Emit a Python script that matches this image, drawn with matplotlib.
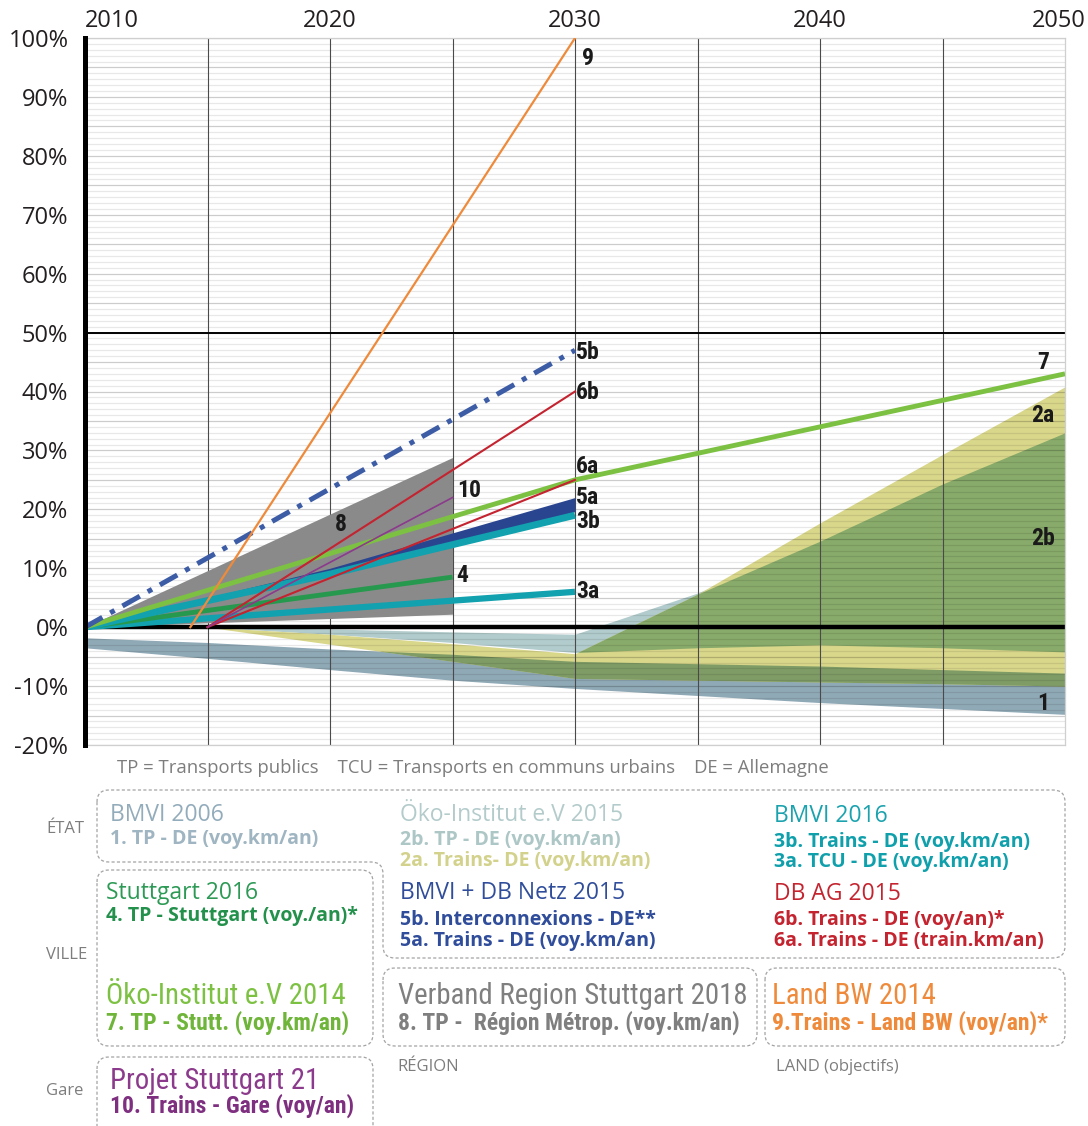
import os
import numpy as np
import matplotlib
matplotlib.use("Agg")
import matplotlib.pyplot as plt
from matplotlib import font_manager as fm
from matplotlib.path import Path
from matplotlib.patches import PathPatch
from matplotlib.transforms import blended_transform_factory, ScaledTranslation

# ---------------------------------------------------------------------------
# Scenario data (% change vs 2010)
# ---------------------------------------------------------------------------
years = [2010, 2015, 2020, 2025, 2030, 2035, 2040, 2045, 2050]
nan = np.nan

# 1. BMVI 2006 - TP DE (band)
s1_hi = [-1.8, -2.6, -3.7, -4.6, -5.8, -6.2, -6.6, -7.2, -7.8]
s1_lo = [-3.5, -5.3, -7.2, -9.0, -10.4, -11.6, -12.8, -13.8, -14.8]
# 2a. Oeko-Institut 2015 - Trains DE (band)
s2a_hi = [nan, 0.0, -1.2, -2.8, -4.5, 5.6, 17.7, 29.3, 40.8]
s2a_lo = [nan, 0.0, -2.9, -5.8, -8.7, -9.0, -9.3, -9.6, -10.0]
# 2b. Oeko-Institut 2015 - TP DE (band)
s2b_hi = [nan, 0.0, -0.3, -0.8, -1.2, 5.8, 14.6, 24.3, 33.0]
s2b_lo = [nan, 0.0, -1.2, -2.6, -4.3, -3.5, -3.0, -3.5, -4.2]

# 3a / 3b. BMVI 2016
s3a_x, s3a_y = [2010, 2030], [0.0, 6.0]
s3b_x, s3b_y = [2010, 2020, 2030], [0.0, 9.0, 19.0]
# 4. Stuttgart 2016
s4_x, s4_y = [2010, 2025], [0.0, 8.5]
# 5a (band) / 5b. BMVI + DB Netz 2015
s5a_x = [2010, 2020, 2030]
s5a_lo = [0.0, 9.2, 19.6]
s5a_hi = [0.0, 10.0, 22.0]
s5b_x, s5b_y = [2010, 2030], [0.0, 47.0]
# 6a / 6b. DB AG 2015
s6a_x, s6a_y = [2015, 2030], [0.0, 25.0]
s6b_x, s6b_y = [2015, 2030], [0.0, 40.0]
# 7. Oeko-Institut 2014 - Stuttgart
s7_x, s7_y = [2010, 2030, 2050], [0.0, 25.0, 43.0]
# 8. Verband Region Stuttgart 2018 (range)
s8_x = [2010, 2025]
s8_lo = [0.0, 2.2]
s8_hi = [0.0, 28.8]
# 9. Land BW 2014
s9_x, s9_y = [2014.3, 2030], [0.0, 100.0]
# 10. Projet Stuttgart 21
s10_x, s10_y = [2015, 2025], [0.0, 22.0]

ytick_vals = [-20, -10, 0, 10, 20, 30, 40, 50, 60, 70, 80, 90, 100]
xtick_vals = [2010, 2020, 2030, 2040, 2050]

# colours
c_blue_grey = "#8fa9b6"
c_light_blue = "#b2cbcc"
c_yellow = "#d9d78a"
c_green_ab = "#88aa6a"
c_green_a1 = "#7f9c66"
c_teal = "#12a1ae"
c_green4 = "#26994f"
c_navy = "#2a4590"
c_dashblue = "#3d5ca6"
c_red = "#c42330"
c_lgreen = "#7dc143"
c_grey8 = "#8a8a8a"
c_orange = "#ef8a3b"
c_purple = "#8b3a8c"


def narrow_font():
    # look for a condensed / narrow face, otherwise fall back on Roboto
    cands = [("Roboto Condensed", "normal"), ("Open Sans Condensed", "normal"),
             ("Liberation Sans Narrow", "normal"), ("Open Sans", "condensed"),
             ("Noto Sans", "condensed"), ("DejaVu Sans", "condensed"),
             ("Roboto", "condensed")]
    for fam, st in cands:
        try:
            p = fm.findfont(fm.FontProperties(family=fam, stretch=st),
                            fallback_to_default=False)
        except ValueError:
            continue
        name = os.path.basename(p).lower()
        if "condensed" in name or "narrow" in name:
            return fam, st, True
    return "Roboto", "normal", False


nfam, nstretch, is_condensed = narrow_font()
nscale = 1.0 if is_condensed else 0.86

W, H = 1088, 1126
fig = plt.figure(figsize=(W / 100, H / 100), dpi=100)
plt.rcParams['font.family'] = ['Open Sans', 'DejaVu Sans']

ax = fig.add_axes([85 / W, 1 - 745 / H, (1065 - 85) / W, (745 - 38) / H])
ax.set_xlim(2010, 2050)
ax.set_ylim(-20, 100)

yr = np.array(years, dtype=float)
a_hi, a_lo = np.array(s2a_hi), np.array(s2a_lo)
b_hi, b_lo = np.array(s2b_hi), np.array(s2b_lo)
o_hi, o_lo = np.array(s1_hi), np.array(s1_lo)

# base bands
ax.fill_between(yr, o_lo, o_hi, color=c_blue_grey, lw=0, zorder=1)
ax.fill_between(yr, b_lo, b_hi, color=c_light_blue, lw=0, zorder=1)
ax.fill_between(yr, a_lo, a_hi, color=c_yellow, lw=0, zorder=1)
# overlaps between bands
ab_lo, ab_hi = np.maximum(a_lo, b_lo), np.minimum(a_hi, b_hi)
ax.fill_between(yr, ab_lo, ab_hi, where=ab_hi > ab_lo, interpolate=True,
                color=c_green_ab, lw=0, zorder=1.1)
a1_lo, a1_hi = np.maximum(a_lo, o_lo), np.minimum(a_hi, o_hi)
ax.fill_between(yr, a1_lo, a1_hi, where=a1_hi > a1_lo, interpolate=True,
                color=c_green_a1, lw=0, zorder=1.1)

# grid
for v in np.arange(-20, 101, 1):
    col = (0, 0, 0, 0.20) if v % 5 == 0 else (0, 0, 0, 0.09)
    ax.axhline(v, color=col, lw=0.9, zorder=1.5)
for yv in range(2015, 2050, 5):
    ax.axvline(yv, color="#4a4a4a", lw=0.8, zorder=1.5)

# 8. grey range
ax.fill_between(s8_x, s8_lo, s8_hi, color=c_grey8, lw=0, zorder=2)

ax.axhline(0, color="black", lw=3.2, zorder=2.5)
ax.axhline(50, color="black", lw=1.4, zorder=2.5)

ax.plot(s3a_x, s3a_y, color=c_teal, lw=4.5, solid_capstyle="butt", zorder=3)
ax.plot(s4_x, s4_y, color=c_green4, lw=3.5, solid_capstyle="butt", zorder=3)
ax.fill_between(s5a_x, s5a_lo, s5a_hi, color=c_navy, lw=0, zorder=3)
ax.plot(s3b_x, s3b_y, color=c_teal, lw=5, solid_capstyle="butt", zorder=3.1)
ax.plot(s7_x, s7_y, color=c_lgreen, lw=3.5, solid_capstyle="butt", zorder=3.2)
ax.plot(s6a_x, s6a_y, color=c_red, lw=1.5, zorder=3.3)
ax.plot(s6b_x, s6b_y, color=c_red, lw=1.5, zorder=3.3)
ax.plot(s10_x, s10_y, color=c_purple, lw=1.2, zorder=3.3)
ax.plot(s5b_x, s5b_y, color=c_dashblue, lw=3.6, ls=(0, (4, 1.8, 1, 1.8)), zorder=3.4)
ax.plot(s9_x, s9_y, color=c_orange, lw=1.6, zorder=3.5)

# series labels
lab = dict(fontsize=17 * nscale, fontweight="bold", color="#1a1a1a", zorder=5,
           family=[nfam, "DejaVu Sans"], fontstretch=nstretch)
ax.text(2030.3, 96.5, "9", va="center", ha="left", **lab)
ax.text(2030.05, 46.6, "5b", va="center", ha="left", **lab)
ax.text(2030.05, 39.8, "6b", va="center", ha="left", **lab)
ax.text(2030.05, 27.2, "6a", va="center", ha="left", **lab)
ax.text(2030.05, 22.0, "5a", va="center", ha="left", **lab)
ax.text(2030.05, 18.0, "3b", va="center", ha="left", **lab)
ax.text(2030.05, 6.0, "3a", va="center", ha="left", **lab)
ax.text(2025.2, 23.2, "10", va="center", ha="left", **lab)
ax.text(2020.45, 17.5, "8", va="center", ha="center", **lab)
ax.text(2025.4, 8.8, "4", va="center", ha="center", **lab)
ax.text(2049.1, 45.0, "7", va="center", ha="center", **lab)
ax.text(2049.1, 36.0, "2a", va="center", ha="center", **lab)
ax.text(2049.1, 15.0, "2b", va="center", ha="center", **lab)
ax.text(2049.1, -13.0, "1", va="center", ha="center", **lab)

# axes styling
ax.set_yticks(ytick_vals)
ax.set_yticklabels([f"{v}%" for v in ytick_vals], fontsize=17, color="#231f20")
ax.tick_params(length=0, axis="y", pad=12)
ax.set_xticks([])
top = blended_transform_factory(ax.transData, ax.transAxes)
for v in xtick_vals:
    if v == 2010:
        ax.text(v, 1.0, str(v), transform=top + ScaledTranslation(0, 5 / 100, fig.dpi_scale_trans),
                ha="left", va="bottom", fontsize=17, color="#231f20")
    elif v == 2050:
        ax.text(v, 1.0, str(v), transform=top + ScaledTranslation(21 / 100, 5 / 100, fig.dpi_scale_trans),
                ha="right", va="bottom", fontsize=17, color="#231f20")
    else:
        ax.text(v, 1.0, str(v), transform=top + ScaledTranslation(0, 5 / 100, fig.dpi_scale_trans),
                ha="center", va="bottom", fontsize=17, color="#231f20")
for s in ["top", "bottom", "right"]:
    ax.spines[s].set_color("#cfcfcf")
    ax.spines[s].set_linewidth(0.9)
ax.spines["left"].set_color("black")
ax.spines["left"].set_linewidth(3.6)
ax.spines["left"].set_zorder(6)


# ---------------------------------------------------------------------------
# legend block below the chart (pixel layout)
# ---------------------------------------------------------------------------
def fpos(x, y):
    return x / W, 1 - y / H


def dashed_outline(pts, r=12):
    verts, codes = [], []
    n = len(pts)
    for i in range(n):
        p0, p1, p2 = (np.array(pts[i - 1], float), np.array(pts[i], float),
                      np.array(pts[(i + 1) % n], float))
        a = p1 + (p0 - p1) / np.linalg.norm(p0 - p1) * r
        b = p1 + (p2 - p1) / np.linalg.norm(p2 - p1) * r
        verts += [a, p1, b]
        codes += [Path.MOVETO if i == 0 else Path.LINETO, Path.CURVE3, Path.CURVE3]
    verts.append(verts[0])
    codes.append(Path.CLOSEPOLY)
    verts = [fpos(*v) for v in verts]
    fig.add_artist(PathPatch(Path(verts, codes), transform=fig.transFigure,
                             fill=False, ec="#a3a3a3", lw=0.9, ls=(0, (2.5, 1.8))))


dashed_outline([(97, 790), (1065, 790), (1065, 958), (383, 958), (383, 862), (97, 862)])
dashed_outline([(97, 870), (373, 870), (373, 1046), (97, 1046)])
dashed_outline([(383, 968), (757, 968), (757, 1046), (383, 1046)])
dashed_outline([(765, 968), (1065, 968), (1065, 1046), (765, 1046)])
dashed_outline([(97, 1057), (373, 1057), (373, 1150), (97, 1150)])

grey_txt = "#7d7d7d"
fig.text(*fpos(117, 768), "TP = Transports publics    TCU = Transports en communs urbains    DE = Allemagne",
         fontsize=13.3, color=grey_txt, va="center")
fig.text(*fpos(46, 829), "ÉTAT", fontsize=12, color=grey_txt, va="center")
fig.text(*fpos(46, 955), "VILLE", fontsize=12, color=grey_txt, va="center")
fig.text(*fpos(46, 1091), "Gare", fontsize=12, color=grey_txt, va="center")
fig.text(*fpos(397, 1067), "RÉGION", fontsize=12, color=grey_txt, va="center")
fig.text(*fpos(776, 1067), "LAND (objectifs)", fontsize=12, color=grey_txt, va="center")

head = dict(fontsize=16.5, va="center")
sub = dict(fontsize=14, fontweight="bold", va="center")
nhead = dict(fontsize=20.7 * nscale, va="center", family=[nfam, "DejaVu Sans"], fontstretch=nstretch)
nsub = dict(fontsize=17 * nscale, fontweight="bold", va="center",
            family=[nfam, "DejaVu Sans"], fontstretch=nstretch)

fig.text(*fpos(110, 815), "BMVI 2006", color="#93acbb", **head)
fig.text(*fpos(110, 839), "1. TP - DE (voy.km/an)", color="#9fb5c2", **sub)

fig.text(*fpos(400, 815), "Öko-Institut e.V 2015", color="#b4cbcb", **head)
fig.text(*fpos(400, 840), "2b. TP - DE (voy.km/an)", color="#adc6c6", **sub)
fig.text(*fpos(400, 861), "2a. Trains- DE (voy.km/an)", color="#d3d28c", **sub)

fig.text(*fpos(774, 816), "BMVI 2016", color="#1aa2ae", **head)
fig.text(*fpos(774, 842), "3b. Trains - DE (voy.km/an)", color="#10a0ac", **sub)
fig.text(*fpos(774, 862), "3a. TCU - DE (voy.km/an)", color="#10a0ac", **sub)

fig.text(*fpos(400, 893), "BMVI + DB Netz 2015", color="#2f4d9a", **head)
fig.text(*fpos(400, 920), "5b. Interconnexions - DE**", color="#2f4d9a", **sub)
fig.text(*fpos(400, 941), "5a. Trains - DE (voy.km/an)", color="#2f4d9a", **sub)

fig.text(*fpos(774, 894), "DB AG 2015", color="#c4242f", **head)
fig.text(*fpos(774, 920), "6b. Trains - DE (voy/an)*", color="#c4242f", **sub)
fig.text(*fpos(774, 941), "6a. Trains - DE (train.km/an)", color="#c4242f", **sub)

fig.text(*fpos(106, 893), "Stuttgart 2016", color="#2c9a55", **head)
fig.text(*fpos(106, 916), "4. TP - Stuttgart (voy./an)*", color="#23914c", **sub)

fig.text(*fpos(106, 996), "Öko-Institut e.V 2014", color="#7dc143", **nhead)
fig.text(*fpos(106, 1023), "7. TP - Stutt. (voy.km/an)", color="#6fb53a", **nsub)

fig.text(*fpos(398, 996), "Verband Region Stuttgart 2018", color="#7f7f7f", **nhead)
fig.text(*fpos(398, 1023), "8. TP -  Région Métrop. (voy.km/an)", color="#7f7f7f", **nsub)

fig.text(*fpos(772, 996), "Land BW 2014", color="#ee8a3a", **nhead)
fig.text(*fpos(772, 1023), "9.Trains - Land BW (voy/an)*", color="#ee8a3a", **nsub)

fig.text(*fpos(110, 1081), "Projet Stuttgart 21", color="#8b3a8c", **nhead)
fig.text(*fpos(110, 1106), "10. Trains - Gare (voy/an)", color="#7e2f80", **nsub)

fig.savefig("out.png", dpi=100, facecolor="white")
